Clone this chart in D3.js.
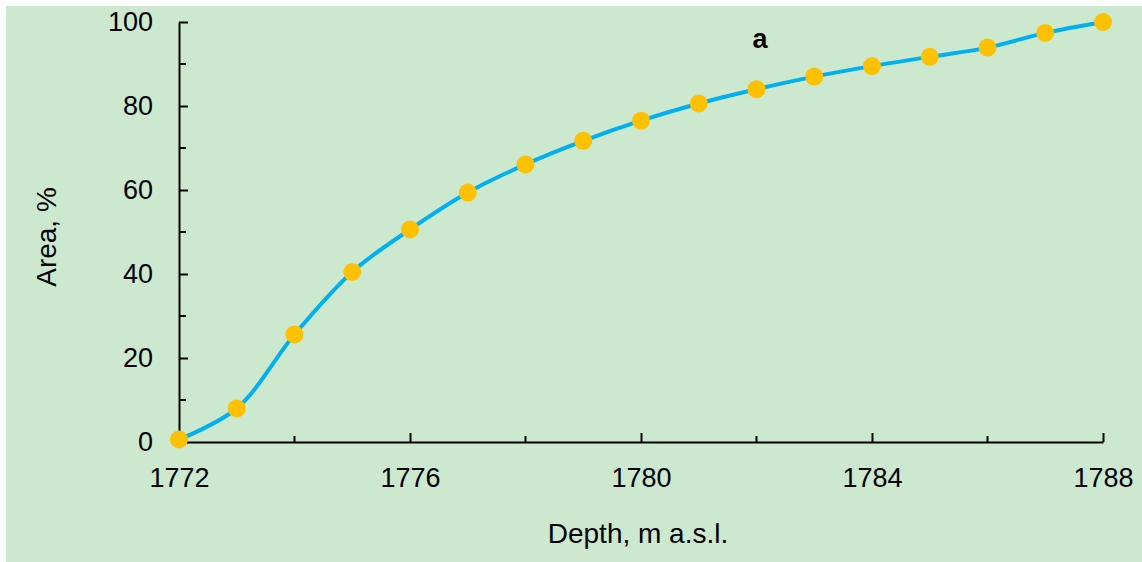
<!DOCTYPE html>
<html>
<head>
<meta charset="utf-8">
<script src="https://cdn.jsdelivr.net/npm/d3@7"></script>
<style>
  html, body { margin: 0; padding: 0; background: #fff; }
  svg { display: block; font-family: "Liberation Sans", Arial, sans-serif; }
</style>
</head>
<body>
<svg id="chart" width="1142" height="562"></svg>
<script>
// datos
var depth = [1772, 1773, 1774, 1775, 1776, 1777, 1778, 1779, 1780, 1781, 1782, 1783, 1784, 1785, 1786, 1787, 1788];
var area = [0.6, 8, 25.6, 40.5, 50.6, 59.4, 66.1, 71.7, 76.5, 80.6, 84.0, 87.0, 89.5, 91.7, 93.9, 97.4, 100];
var xTicks = [1772, 1776, 1780, 1784, 1788];
var xMinor = [1774, 1778, 1782, 1786];
var yTicks = [0, 20, 40, 60, 80, 100];
var yMinor = [10, 30, 50, 70, 90];

var svg = d3.select("#chart");

var margin = {top: 22, left: 179, right: 39, bottom: 120},
    width = 1142 - margin.left - margin.right,
    height = 562 - margin.top - margin.bottom;

svg.append("rect")
    .attr("x", 6).attr("y", 6)
    .attr("width", 1136).attr("height", 556)
    .attr("fill", "#cce8cf");

var g = svg.append("g")
    .attr("transform", "translate(" + margin.left + "," + margin.top + ")");

var x = d3.scaleLinear().domain([1772, 1788]).range([0, width]);
var y = d3.scaleLinear().domain([0, 100]).range([height, 0]);

// eje x
var gx = g.append("g")
    .attr("transform", "translate(0," + height + ")")
    .call(d3.axisBottom(x).tickValues(xTicks).tickFormat(d3.format("d")).tickSizeInner(-9).tickSizeOuter(0).tickPadding(26));
xMinor.forEach(function(v) {
  gx.append("line")
    .attr("x1", x(v)).attr("x2", x(v))
    .attr("y1", 0).attr("y2", -6)
    .attr("stroke", "#000").attr("stroke-width", 2);
});

// eje y
var gy = g.append("g")
    .call(d3.axisLeft(y).tickValues(yTicks).tickSizeInner(-9).tickSizeOuter(0).tickPadding(26));
yMinor.forEach(function(v) {
  gy.append("line")
    .attr("x1", 0).attr("x2", 7)
    .attr("y1", y(v)).attr("y2", y(v))
    .attr("stroke", "#000").attr("stroke-width", 2);
});

[gx, gy].forEach(function(a) {
  a.select(".domain").attr("stroke", "#000").attr("stroke-width", 2);
  a.selectAll(".tick line").attr("stroke", "#000").attr("stroke-width", 2);
  a.selectAll(".tick text").attr("fill", "#000").style("font-size", "27px");
});

// línea suavizada
var linea = d3.line()
    .x(function(d, i) { return x(depth[i]); })
    .y(function(d) { return y(d); })
    .curve(d3.curveCatmullRom.alpha(0.5));

g.append("path")
    .datum(area)
    .attr("fill", "none")
    .attr("stroke", "#00b0f0")
    .attr("stroke-width", 4)
    .attr("d", linea);

g.selectAll(".punto")
    .data(area)
  .enter().append("circle")
    .attr("class", "punto")
    .attr("cx", function(d, i) { return x(depth[i]); })
    .attr("cy", function(d) { return y(d); })
    .attr("r", 9)
    .attr("fill", "#ffc000");

// títulos
svg.append("text")
    .attr("x", 638).attr("y", 543)
    .attr("text-anchor", "middle")
    .style("font-size", "28px")
    .text("Depth, m a.s.l.");

svg.append("text")
    .attr("transform", "translate(56,237) rotate(-90)")
    .attr("text-anchor", "middle")
    .style("font-size", "28px")
    .text("Area, %");

svg.append("text")
    .attr("x", 760).attr("y", 48)
    .attr("text-anchor", "middle")
    .style("font-size", "27px")
    .style("font-weight", "bold")
    .text("a");
</script>
</body>
</html>
